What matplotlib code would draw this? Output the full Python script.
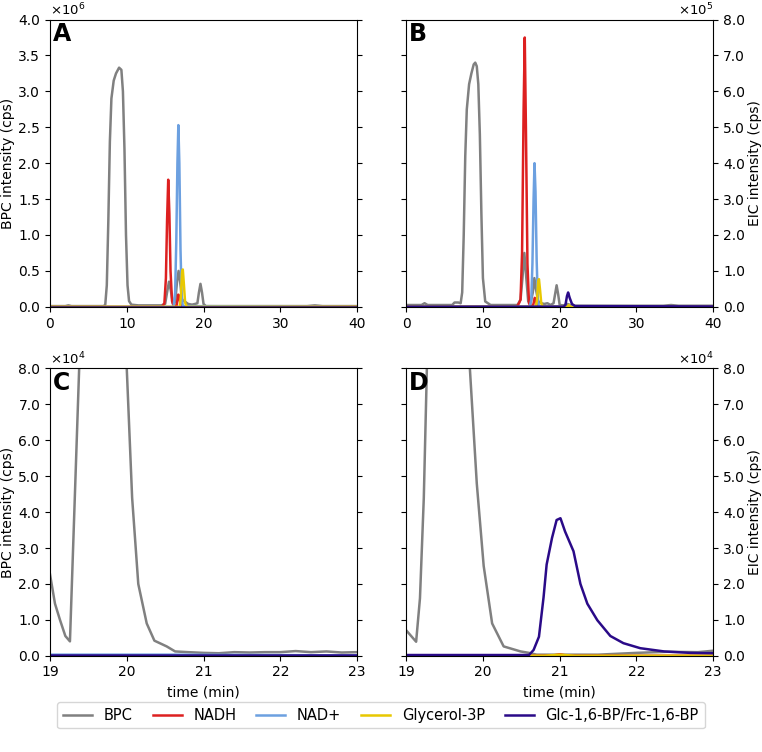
import numpy as np
import matplotlib
matplotlib.use('Agg')
import matplotlib.pyplot as plt
from matplotlib import ticker

# colours of the five traces
c_bpc = '#808080'
c_nadh = '#dd2020'
c_nad = '#6ca0e0'
c_g3p = '#e8c800'
c_glc = '#2a0a88'
labels = ['BPC', 'NADH', 'NAD+', 'Glycerol-3P', 'Glc-1,6-BP/Frc-1,6-BP']

# panel A (intensity in 1e6 cps)
A_bpc_t = [0, 2.0, 2.4, 2.8, 7.0, 7.2, 7.4, 7.6, 7.8, 8.0, 8.3, 8.6, 9.0, 9.3, 9.5, 9.7, 9.9, 10.1, 10.3, 10.6,
           11.5, 14.5, 15.0, 15.25, 15.5, 15.75, 16.0, 16.3, 16.55, 16.75, 16.95, 17.2, 17.6, 18.0, 18.5, 18.9,
           19.2, 19.4, 19.6, 19.8, 20.0, 20.3, 21, 33.5, 34.5, 35.5, 40]
A_bpc_y = [0.01, 0.01, 0.02, 0.01, 0.01, 0.03, 0.3, 1.2, 2.3, 2.9, 3.15, 3.25, 3.33, 3.3, 3.0, 2.2, 1.0, 0.3, 0.08, 0.03,
           0.02, 0.02, 0.04, 0.2, 0.35, 0.22, 0.05, 0.06, 0.35, 0.5, 0.35, 0.1, 0.07, 0.04, 0.03, 0.04,
           0.05, 0.2, 0.32, 0.2, 0.04, 0.01, 0.01, 0.01, 0.02, 0.01, 0.01]
A_nadh_t = [0, 14.6, 14.9, 15.1, 15.25, 15.4, 15.55, 15.7, 15.9, 16.1, 16.5, 16.7, 16.85, 17.0, 17.2, 40]
A_nadh_y = [0, 0, 0.05, 0.4, 1.2, 1.77, 1.3, 0.5, 0.08, 0.01, 0.02, 0.17, 0.15, 0.03, 0, 0]
A_nad_t = [0, 16.1, 16.3, 16.45, 16.6, 16.72, 16.85, 17.0, 17.15, 17.3, 40]
A_nad_y = [0, 0, 0.2, 0.9, 2.0, 2.53, 2.0, 0.8, 0.15, 0.01, 0]
A_g3p_t = [0, 16.9, 17.05, 17.2, 17.3, 17.45, 17.6, 17.8, 40]
A_g3p_y = [0, 0, 0.15, 0.48, 0.52, 0.3, 0.06, 0, 0]
A_glc_t = [0, 40]
A_glc_y = [0.003, 0.003]

# panel B (intensity in 1e5 cps)
B_bpc_t = [0, 2.0, 2.4, 2.8, 6.0, 6.3, 6.8, 7.1, 7.3, 7.5, 7.7, 7.9, 8.2, 8.5, 8.8, 9.0, 9.2, 9.4, 9.6, 9.8,
           10.0, 10.3, 11.0, 14.5, 14.9, 15.15, 15.4, 15.65, 15.9, 16.2, 16.5, 16.7, 16.9, 17.2, 17.6, 18.0,
           18.4, 18.8, 19.2, 19.4, 19.6, 19.8, 20.0, 20.5, 21.0, 21.5, 22, 33.5, 34.5, 35.5, 40]
B_bpc_y = [0.05, 0.05, 0.1, 0.05, 0.05, 0.12, 0.12, 0.1, 0.4, 2.0, 4.2, 5.5, 6.2, 6.5, 6.75, 6.8, 6.7, 6.2, 4.8, 2.6,
           0.8, 0.15, 0.05, 0.05, 0.2, 0.8, 1.5, 0.8, 0.15, 0.1, 0.4, 0.8, 0.5, 0.15, 0.1, 0.08,
           0.1, 0.05, 0.1, 0.35, 0.6, 0.35, 0.05, 0.04, 0.08, 0.04, 0.03, 0.03, 0.05, 0.03, 0.03]
B_nadh_t = [0, 14.4, 14.7, 14.9, 15.1, 15.3, 15.45, 15.6, 15.8, 16.0, 16.2, 16.55, 16.75, 16.9, 17.1, 40]
B_nadh_y = [0, 0, 0.1, 0.2, 1.5, 5.5, 7.5, 5.0, 1.2, 0.1, 0.02, 0.05, 0.25, 0.2, 0, 0]
B_nad_t = [0, 16.1, 16.3, 16.45, 16.6, 16.72, 16.85, 17.0, 17.15, 17.3, 40]
B_nad_y = [0, 0, 0.2, 1.2, 3.0, 4.0, 3.2, 1.3, 0.2, 0.01, 0]
B_g3p_t = [0, 16.9, 17.05, 17.2, 17.3, 17.45, 17.6, 17.8, 21.0, 21.2, 21.4, 40]
B_g3p_y = [0, 0, 0.2, 0.7, 0.77, 0.45, 0.1, 0, 0, 0.05, 0, 0]
B_glc_t = [0, 20.5, 20.75, 20.95, 21.1, 21.3, 21.6, 22.0, 40]
B_glc_y = [0.003, 0.005, 0.05, 0.3, 0.4, 0.25, 0.08, 0.02, 0.01]

# panel C (intensity in 1e4 cps)
C_bpc_t = [19.0, 19.065, 19.13, 19.2, 19.26, 19.38, 19.5, 19.7, 19.9, 20.0, 20.07, 20.15, 20.26, 20.36, 20.52,
           20.63, 20.8, 21.0, 21.2, 21.4, 21.6, 21.8, 22.0, 22.2, 22.4, 22.6, 22.8, 23.0]
C_bpc_y = [2.27, 1.45, 1.0, 0.55, 0.4, 8.0, 25, 32, 15, 8.0, 4.4, 2.0, 0.9, 0.42, 0.26,
           0.12, 0.1, 0.08, 0.07, 0.1, 0.09, 0.1, 0.1, 0.13, 0.1, 0.12, 0.09, 0.1]
C_nadh_t = [19, 23]
C_nadh_y = [0.0, 0.0]
C_nad_t = [19, 20.6, 23]
C_nad_y = [0.03, 0.03, 0.01]
C_g3p_t = [19, 23]
C_g3p_y = [0.0, 0.0]
C_glc_t = [19, 23]
C_glc_y = [0.01, 0.01]

# panel D (intensity in 1e4 cps)
D_bpc_t = [19.0, 19.13, 19.18, 19.23, 19.27, 19.4, 19.6, 19.75, 19.83, 19.92, 20.01, 20.12, 20.27, 20.49, 20.6,
           20.7, 21.5, 22.0, 22.4, 22.8, 23.0]
D_bpc_y = [0.71, 0.39, 1.6, 4.4, 8.0, 20, 30, 15, 8.0, 4.8, 2.5, 0.9, 0.26, 0.12, 0.08,
           0.03, 0.03, 0.08, 0.11, 0.1, 0.14]
D_nadh_t = [19, 20.9, 21.0, 21.1, 23]
D_nadh_y = [0.0, 0.0, 0.04, 0.0, 0.0]
D_nad_t = [19, 23]
D_nad_y = [0.0, 0.0]
D_g3p_t = [19, 20.8, 21.0, 21.2, 23]
D_g3p_y = [0, 0, 0.03, 0, 0]
D_glc_t = [19.0, 20.6, 20.66, 20.73, 20.79, 20.83, 20.9, 20.96, 21.01, 21.07, 21.18, 21.27, 21.36, 21.49, 21.66,
           21.83, 22.05, 22.36, 22.7, 23.0]
D_glc_y = [0.02, 0.02, 0.16, 0.53, 1.63, 2.54, 3.28, 3.78, 3.83, 3.46, 2.91, 2.0, 1.45, 0.99, 0.55,
           0.35, 0.21, 0.12, 0.08, 0.07]


class FixedFmt(ticker.ScalarFormatter):
    def __init__(self, fmt):
        super().__init__(useMathText=True)
        self._fmt = fmt
        self.set_powerlimits((0, 0))

    def _set_format(self):
        self.format = self._fmt


fig = plt.figure(figsize=(7.62, 7.52), dpi=100)
w = 0.403
h = 0.382
axA = fig.add_axes([0.0656, 0.592, w, h])
axB = fig.add_axes([0.533, 0.592, w, h])
axC = fig.add_axes([0.0656, 0.128, w, h])
axD = fig.add_axes([0.533, 0.128, w, h])

panels = [
    (axA, 'A', 1e6, [A_bpc_t, A_nadh_t, A_nad_t, A_g3p_t, A_glc_t], [A_bpc_y, A_nadh_y, A_nad_y, A_g3p_y, A_glc_y]),
    (axB, 'B', 1e5, [B_bpc_t, B_nadh_t, B_nad_t, B_g3p_t, B_glc_t], [B_bpc_y, B_nadh_y, B_nad_y, B_g3p_y, B_glc_y]),
    (axC, 'C', 1e4, [C_bpc_t, C_nadh_t, C_nad_t, C_g3p_t, C_glc_t], [C_bpc_y, C_nadh_y, C_nad_y, C_g3p_y, C_glc_y]),
    (axD, 'D', 1e4, [D_bpc_t, D_nadh_t, D_nad_t, D_g3p_t, D_glc_t], [D_bpc_y, D_nadh_y, D_nad_y, D_g3p_y, D_glc_y]),
]
colors = [c_bpc, c_nadh, c_nad, c_g3p, c_glc]

handles = []
for ax, letter, scale, ts, ys in panels:
    hs = []
    for t, y, c in zip(ts, ys, colors):
        ln, = ax.plot(t, np.array(y) * scale, color=c, lw=1.8)
        hs.append(ln)
    if letter == 'A':
        handles = hs
    ax.text(0.008, 0.992, letter, transform=ax.transAxes, ha='left', va='top',
            fontsize=17, fontweight='bold')
    ax.tick_params(left=True, right=True, direction='out')

for ax in (axA, axB):
    ax.set_xlim(0, 40)
    ax.set_xticks([0, 10, 20, 30, 40])
for ax in (axC, axD):
    ax.set_xlim(19, 23)
    ax.set_xticks([19, 20, 21, 22, 23])
    ax.set_xlabel('time (min)')

axA.set_ylim(0, 4e6)
axA.yaxis.set_major_locator(ticker.MultipleLocator(0.5e6))
axA.yaxis.set_major_formatter(FixedFmt('%1.1f'))
axA.set_ylabel('BPC intensity (cps)')

axB.set_ylim(0, 8e5)
axB.yaxis.set_major_locator(ticker.MultipleLocator(1e5))
axB.yaxis.set_major_formatter(FixedFmt('%1.1f'))

axC.set_ylim(0, 8e4)
axC.yaxis.set_major_locator(ticker.MultipleLocator(1e4))
axC.yaxis.set_major_formatter(FixedFmt('%1.1f'))
axC.set_ylabel('BPC intensity (cps)')

axD.set_ylim(0, 8e4)
axD.yaxis.set_major_locator(ticker.MultipleLocator(1e4))
axD.yaxis.set_major_formatter(FixedFmt('%1.1f'))

for ax in (axB, axD):
    ax.yaxis.tick_right()
    ax.yaxis.set_label_position('right')
    ax.yaxis.set_offset_position('right')
    ax.tick_params(left=True, right=True, labelleft=False, labelright=True)
    ax.set_ylabel('EIC intensity (cps)', labelpad=2)
for ax in (axA, axC):
    ax.tick_params(left=True, right=True, labelleft=True, labelright=False)
    ax.set_ylabel(ax.get_ylabel(), labelpad=2)

for ax in (axA, axB, axC, axD):
    ax.yaxis.get_offset_text().set_fontsize(9.5)

fig.legend(handles, labels, loc='center', bbox_to_anchor=(0.5, 0.049), ncol=5,
           fontsize=10.5, columnspacing=1.35, handlelength=2.0)

fig.savefig('out.png', dpi=100)
